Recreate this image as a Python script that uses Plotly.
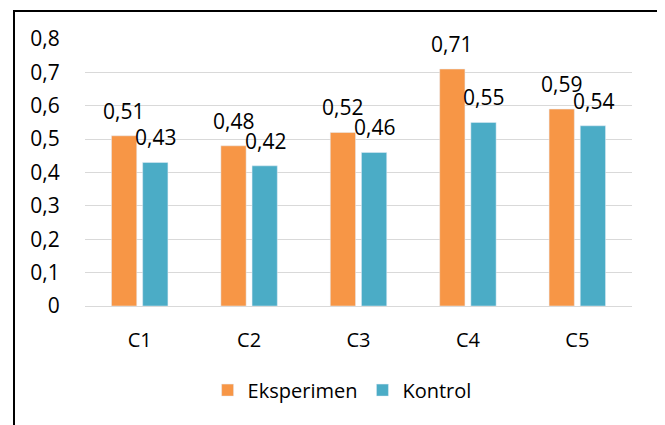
import plotly.graph_objects as go

categories = ["C1", "C2", "C3", "C4", "C5"]
eksperimen = [0.51, 0.48, 0.52, 0.71, 0.59]
kontrol = [0.43, 0.42, 0.46, 0.55, 0.54]
tick_vals = [0, 0.1, 0.2, 0.3, 0.4, 0.5, 0.6, 0.7, 0.8]
tick_text = ["0", "0,1", "0,2", "0,3", "0,4", "0,5", "0,6", "0,7", "0,8"]

FONT = "Open Sans"
ORANGE = "#F79646"
BLUE = "#4BACC6"

fig = go.Figure()
fig.add_trace(go.Bar(name="Eksperimen", x=categories, y=eksperimen, marker_color=ORANGE))
fig.add_trace(go.Bar(name="Kontrol", x=categories, y=kontrol, marker_color=BLUE))

annotations = []
for series, shift in ((eksperimen, -16), (kontrol, 16)):
    for c, v in zip(categories, series):
        annotations.append(dict(
            x=c, y=v, xref="x", yref="y", xshift=shift, yshift=25,
            text=f"{v:.2f}".replace(".", ","), showarrow=False,
            yanchor="middle", xanchor="center",
            font=dict(family=FONT, size=21, color="#000000"),
        ))

fig.update_layout(
    width=657, height=417,
    margin=dict(l=77, r=33, t=31, b=119),
    paper_bgcolor="white", plot_bgcolor="white",
    barmode="group", bargap=0.43, bargroupgap=0.19,
    font=dict(family=FONT, size=20, color="#000000"),
    showlegend=True,
    legend=dict(orientation="h", x=0.47, xanchor="center", y=-0.315, yanchor="middle",
                font=dict(family=FONT, size=20, color="#000000"),
                itemwidth=30, traceorder="normal"),
    annotations=annotations,
    shapes=[dict(type="rect", xref="paper", yref="paper",
                 x0=-0.1298, x1=1.053, y0=-0.6, y1=1.1049,
                 line=dict(color="#000000", width=2), layer="above")],
)
fig.update_yaxes(range=[0, 0.8], tickvals=tick_vals, ticktext=tick_text,
                 showgrid=True, gridcolor="#D9D9D9", gridwidth=1,
                 zeroline=False, showline=False,
                 ticks="outside", ticklen=20, tickcolor="rgba(0,0,0,0)",
                 tickfont=dict(family=FONT, size=21, color="#000000"))
fig.update_xaxes(showline=True, linecolor="#D9D9D9", linewidth=1,
                 ticks="outside", ticklen=16, tickcolor="rgba(0,0,0,0)",
                 tickfont=dict(family=FONT, size=20, color="#000000"))

fig.write_html("out.html")
